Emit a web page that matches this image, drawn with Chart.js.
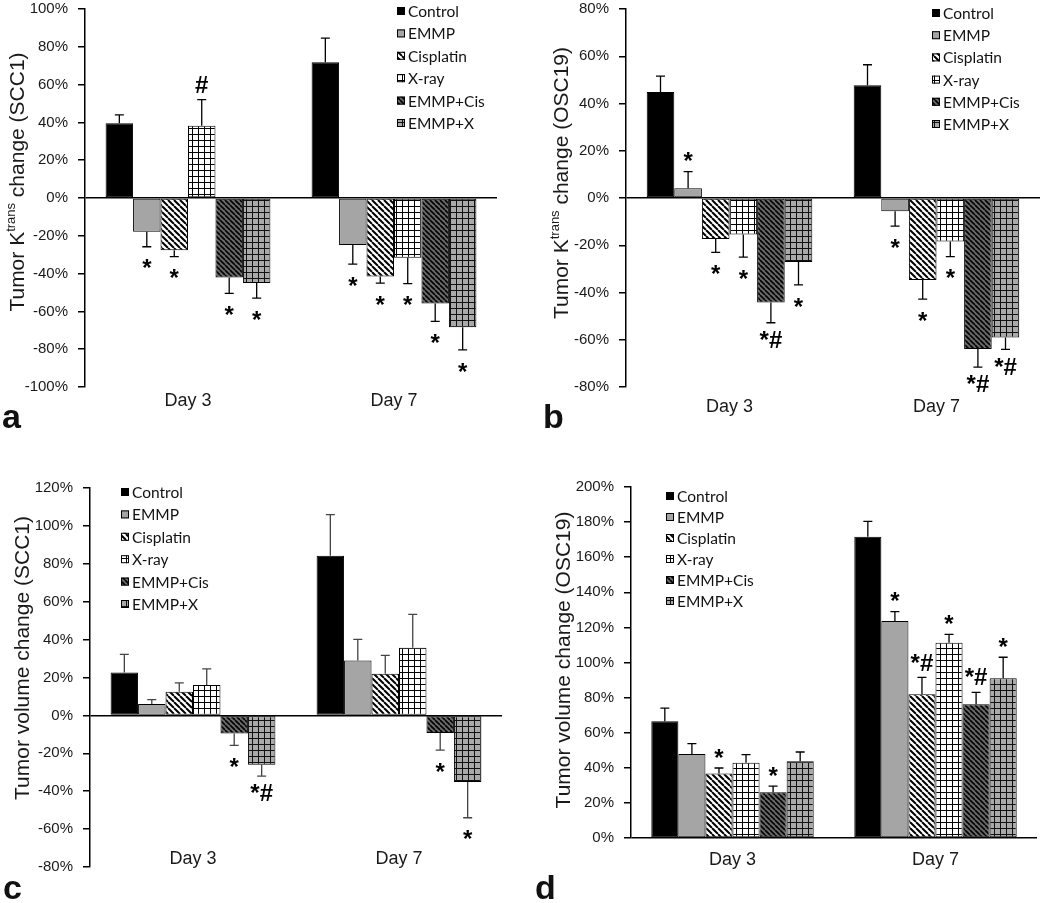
<!DOCTYPE html>
<html>
<head>
<meta charset="utf-8">
<script src="https://cdn.jsdelivr.net/npm/chart.js@4.4.0/dist/chart.umd.min.js"></script>
<style>
  body { margin: 0; background: #fff; width: 1050px; height: 903px; position: relative; overflow: hidden; }
  canvas { position: absolute; }
  .tag { position: absolute; font: bold 34px "Liberation Sans", Arial, sans-serif; color: #111; line-height: 1; }
</style>
</head>
<body>
<canvas id="chartA"></canvas>
<canvas id="chartB"></canvas>
<canvas id="chartC"></canvas>
<canvas id="chartD"></canvas>
<div class="tag" style="left:2px;top:399px">a</div>
<div class="tag" style="left:543px;top:399px">b</div>
<div class="tag" style="left:3px;top:870px">c</div>
<div class="tag" style="left:535px;top:870px">d</div>
<script>
const days = ['Day 3', 'Day 7'];
const groups = ['Control', 'EMMP', 'Cisplatin', 'X-ray', 'EMMP+Cis', 'EMMP+X'];

// a: Ktrans change, SCC1
const aDay3 = [39.5, -17.9, -27.7, 38.2, -42.0, -45.0];
const aDay7 = [71.8, -24.9, -41.6, -31.6, -55.8, -68.4];
const aErr3 = [4.5, 7.9, 3.3, 13.8, 8.5, 8.0];
const aErr7 = [12.8, 10.1, 3.4, 13.7, 9.5, 12.0];
const aMark3 = ['', '*', '*', '#', '*', '*'];
const aMark7 = ['', '*', '*', '*', '*', '*'];

// b: Ktrans change, OSC19
const bDay3 = [44.9, 4.1, -17.4, -15.4, -44.2, -27.1];
const bDay7 = [47.7, -5.6, -34.7, -18.4, -63.9, -59.1];
const bErr3 = [6.7, 7.1, 5.6, 9.6, 8.6, 9.7];
const bErr7 = [8.7, 6.3, 8.1, 6.4, 7.7, 5.0];
const bMark3 = ['', '*', '*', '*', '*#', '*'];
const bMark7 = ['', '*', '*', '*', '*#', '*#'];

// c: volume change, SCC1
const cDay3 = [22.7, 6.0, 12.5, 16.0, -9.5, -26.0];
const cDay7 = [84.3, 29.0, 22.0, 35.7, -9.3, -35.2];
const cErr3 = [9.5, 2.3, 4.7, 8.5, 6.3, 6.0];
const cErr7 = [21.7, 11.1, 9.7, 17.6, 9.0, 18.8];
const cMark3 = ['', '', '', '', '*', '*#'];
const cMark7 = ['', '', '', '', '*', '*'];

// d: volume change, OSC19
const dDay3 = [66.5, 47.9, 36.8, 42.9, 26.0, 43.7];
const dDay7 = [171.7, 123.6, 81.9, 111.3, 76.2, 91.0];
const dErr3 = [7.5, 5.9, 3.1, 4.6, 3.6, 5.3];
const dErr7 = [8.7, 5.4, 9.6, 4.7, 6.8, 12.0];
const dMark3 = ['', '', '*', '', '*', ''];
const dMark7 = ['', '*', '*#', '*', '*#', '*'];

// y ranges [min, max, step]
const aRange = [-100, 100, 20];
const bRange = [-80, 80, 20];
const cRange = [-80, 120, 20];
const dRange = [0, 200, 20];

const FONT = '"Liberation Sans", Arial, sans-serif';
Chart.defaults.font.family = FONT;
Chart.defaults.color = '#1a1a1a';

const tmp = document.createElement('canvas').getContext('2d');

function stripes(bg, step, lw) {
  const c = document.createElement('canvas');
  c.width = c.height = step;
  const g = c.getContext('2d');
  g.fillStyle = bg;
  g.fillRect(0, 0, step, step);
  g.strokeStyle = '#000';
  g.lineWidth = lw;
  g.beginPath();
  for (const k of [-step, 0, step]) {
    g.moveTo(k, 0);
    g.lineTo(k + step, step);
  }
  g.stroke();
  return tmp.createPattern(c, 'repeat');
}

function grid(bg, step, col) {
  const c = document.createElement('canvas');
  c.width = c.height = step;
  const g = c.getContext('2d');
  g.fillStyle = bg;
  g.fillRect(0, 0, step, step);
  g.fillStyle = col;
  g.fillRect(0, 0, step, 1);
  g.fillRect(0, 0, 1, step);
  return tmp.createPattern(c, 'repeat');
}

const fills = [
  '#000000',
  '#a5a5a5',
  stripes('#ffffff', 6, 2),
  grid('#ffffff', 6, '#000'),
  stripes('#6a6a6a', 5, 1.6),
  grid('#a9a9a9', 6, '#111')
];

const errorBars = {
  id: 'errorBars',
  afterDatasetsDraw(chart, args, opts) {
    const ctx = chart.ctx, ys = chart.scales.y;
    ctx.save();
    chart.data.datasets.forEach((ds, i) => {
      chart.getDatasetMeta(i).data.forEach((bar, j) => {
        const v = ds.data[j];
        const sign = v >= 0 ? 1 : -1;
        const yEnd = ys.getPixelForValue(v + sign * opts.errors[j][i]);
        ctx.strokeStyle = opts.color;
        ctx.lineWidth = 1.3;
        ctx.beginPath();
        ctx.moveTo(bar.x, bar.y);
        ctx.lineTo(bar.x, yEnd);
        ctx.moveTo(bar.x - 4.5, yEnd);
        ctx.lineTo(bar.x + 4.5, yEnd);
        ctx.stroke();
        const m = opts.marks[j][i];
        if (m) {
          const fs = 24;
          ctx.fillStyle = '#000';
          ctx.font = 'bold ' + fs + 'px ' + FONT;
          ctx.textAlign = 'center';
          ctx.textBaseline = 'alphabetic';
          const cy = yEnd - sign * 16;
          const off = m === '*' ? 0.57 * fs : 0.38 * fs;
          ctx.fillText(m, bar.x, cy + off);
        }
      });
    });
    ctx.restore();
  }
};

const boxLegend = {
  id: 'boxLegend',
  afterDraw(chart, args, opts) {
    const ctx = chart.ctx;
    ctx.save();
    ctx.font = '15.5px Lato, "Open Sans", sans-serif';
    ctx.textBaseline = 'middle';
    ctx.textAlign = 'left';
    chart.data.datasets.forEach((ds, i) => {
      const y = opts.y + i * opts.gap;
      ctx.fillStyle = ds.backgroundColor;
      ctx.fillRect(opts.x, y - 4, 8, 8);
      ctx.strokeStyle = '#000';
      ctx.lineWidth = 1;
      ctx.strokeRect(opts.x + 0.5, y - 3.5, 7, 7);
      ctx.fillStyle = '#111';
      ctx.fillText(ds.label, opts.x + 11, y + 1);
    });
    ctx.restore();
  }
};

const axisTitle = {
  id: 'axisTitle',
  afterDraw(chart, args, opts) {
    const ctx = chart.ctx;
    ctx.save();
    ctx.translate(opts.x, opts.y);
    ctx.rotate(-Math.PI / 2);
    let total = 0;
    opts.parts.forEach(p => {
      ctx.font = p[1] + 'px ' + FONT;
      total += ctx.measureText(p[0]).width;
    });
    let x = -total / 2;
    ctx.fillStyle = '#1a1a1a';
    ctx.textBaseline = 'middle';
    ctx.textAlign = 'left';
    opts.parts.forEach(p => {
      ctx.font = p[1] + 'px ' + FONT;
      ctx.fillText(p[0], x, p[2]);
      x += ctx.measureText(p[0]).width;
    });
    ctx.restore();
  }
};

function buildPanel(p) {
  const el = document.getElementById(p.id);
  el.width = p.canvas.w;
  el.height = p.canvas.h;
  el.style.left = p.canvas.left + 'px';
  el.style.top = p.canvas.top + 'px';
  const yW = p.area.l - p.canvas.left;
  const xH = p.canvas.top + p.canvas.h - p.area.b;

  const datasets = groups.map((g, i) => ({
    label: g,
    data: [p.day3[i], p.day7[i]],
    backgroundColor: fills[i],
    borderColor: '#000',
    borderWidth: 1,
    borderSkipped: false,
    categoryPercentage: 0.8,
    barPercentage: 1.0
  }));

  return new Chart(el, {
    type: 'bar',
    data: { labels: days, datasets: datasets },
    options: {
      responsive: false,
      animation: false,
      layout: {
        padding: {
          left: 0,
          top: p.area.t - p.canvas.top,
          right: p.canvas.left + p.canvas.w - p.area.r,
          bottom: 0
        }
      },
      scales: {
        x: {
          grid: { display: false },
          border: { display: false },
          ticks: { font: { size: 18 }, padding: p.xPad, color: '#1a1a1a' },
          afterFit: s => {
            s.height = xH;
            // labels may sit above the axis box (panel c), so don't clip them
            s._computeLabelArea = () => undefined;
          }
        },
        y: {
          min: p.range[0],
          max: p.range[1],
          ticks: {
            stepSize: p.range[2],
            font: { size: 15 },
            padding: 10,
            color: '#1a1a1a',
            callback: v => v + '%'
          },
          grid: {
            drawOnChartArea: true,
            tickLength: 7,
            tickColor: '#000',
            lineWidth: 1.5,
            color: c => (c.tick && c.tick.value === 0 ? '#000' : 'rgba(0,0,0,0)')
          },
          border: { display: true, color: '#000', width: 1.5 },
          afterFit: s => { s.width = yW; }
        }
      },
      plugins: {
        legend: { display: false },
        tooltip: { enabled: false },
        errorBars: { errors: [p.err3, p.err7], marks: [p.mark3, p.mark7], color: p.errColor },
        boxLegend: { x: p.legend[0] - p.canvas.left, y: p.legend[1] - p.canvas.top, gap: p.legend[2] },
        axisTitle: { x: p.title[0] - p.canvas.left, y: p.title[1] - p.canvas.top, parts: p.titleParts }
      }
    },
    plugins: [errorBars, boxLegend, axisTitle]
  });
}

const ktransParts = site => [['Tumor K', 21, 0], ['trans', 13, -7], [' change (' + site + ')', 21, 0]];
const volumeParts = site => [['Tumor volume change (' + site + ')', 21, 0]];

buildPanel({
  id: 'chartA', canvas: { left: 0, top: -10, w: 520, h: 460 },
  area: { l: 85, r: 497, t: 7, b: 387 }, range: aRange, xPad: -5,
  day3: aDay3, day7: aDay7, err3: aErr3, err7: aErr7, mark3: aMark3, mark7: aMark7,
  errColor: '#000', legend: [397, 11, 22.4], title: [18, 182], titleParts: ktransParts('SCC1')
});
buildPanel({
  id: 'chartB', canvas: { left: 520, top: -10, w: 530, h: 460 },
  area: { l: 626, r: 1040, t: 7, b: 387 }, range: bRange, xPad: 1,
  day3: bDay3, day7: bDay7, err3: bErr3, err7: bErr7, mark3: bMark3, mark7: bMark7,
  errColor: '#000', legend: [932, 13, 22.2], title: [562, 183], titleParts: ktransParts('OSC19')
});
buildPanel({
  id: 'chartC', canvas: { left: 0, top: 450, w: 520, h: 453 },
  area: { l: 90, r: 502, t: 488, b: 867 }, range: cRange, xPad: -27,
  day3: cDay3, day7: cDay7, err3: cErr3, err7: cErr7, mark3: cMark3, mark7: cMark7,
  errColor: '#444', legend: [121, 492, 22.4], title: [23, 658], titleParts: volumeParts('SCC1')
});
buildPanel({
  id: 'chartD', canvas: { left: 520, top: 450, w: 530, h: 453 },
  area: { l: 631, r: 1037, t: 487, b: 838 }, range: dRange, xPad: 3,
  day3: dDay3, day7: dDay7, err3: dErr3, err7: dErr7, mark3: dMark3, mark7: dMark7,
  errColor: '#000', legend: [666, 496, 21], title: [564, 660], titleParts: volumeParts('OSC19')
});
</script>
</body>
</html>
